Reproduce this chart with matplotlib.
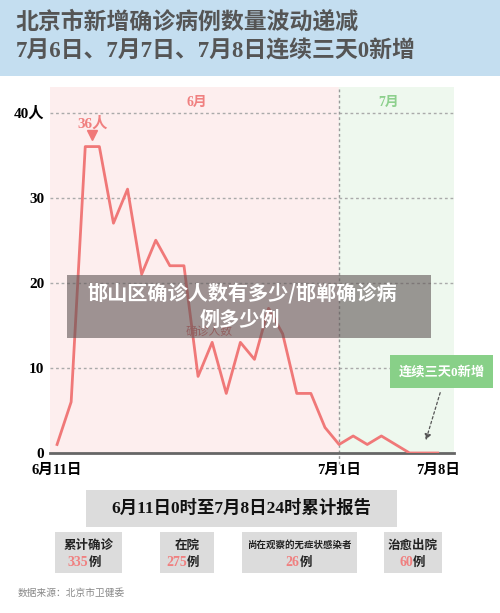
import numpy as np
import matplotlib.pyplot as plt
from matplotlib.patches import Rectangle, FancyArrowPatch

# Beijing daily new confirmed cases, 6/11 - 7/8
days = list(range(28))
cases = [1, 6, 36, 36, 27, 31, 21, 25, 22, 22, 9, 13, 7, 13, 11, 17, 14, 7, 7, 3,
         1, 2, 1, 2, 1, 0, 0, 0]
y_ticks = [0, 10, 20, 30, 40]
y_labels = ['0', '10', '20', '30', '40人']
x_ticks = [0, 20, 27]
x_labels = ['6月11日', '7月1日', '7月8日']
box_titles = ['累计确诊', '在院', '尚在观察的无症状感染者', '治愈出院']
box_values = ['335', '275', '26', '60']

CJK = ['Noto Sans CJK SC', 'DejaVu Sans']
MIX = ['Liberation Serif', 'Noto Sans CJK SC']
plt.rcParams['font.family'] = CJK

W, H = 500, 613
fig = plt.figure(figsize=(W / 100, H / 100), dpi=100)

def fx(x):
    return x / W

def fy(y):
    return 1 - y / H

def rect(x0, y0, x1, y1, color, z=0, alpha=1.0):
    r = Rectangle((fx(x0), fy(y1)), fx(x1) - fx(x0), fy(y0) - fy(y1),
                  transform=fig.transFigure, facecolor=color, edgecolor='none',
                  zorder=z, alpha=alpha)
    fig.add_artist(r)

# title band
rect(0, 0, 500, 76, '#c4def0')
fig.text(fx(16), fy(22), '北京市新增确诊病例数量波动递减', fontsize=16.5, fontweight='bold',
         color='#555555', va='center', family=CJK)
fig.text(fx(16), fy(51), '7月6日、7月7日、7月8日连续三天0新增', fontsize=16.5, fontweight='bold',
         color='#555555', va='center', family=MIX)

# main chart
ax = fig.add_axes([fx(50), fy(453), fx(454) - fx(50), fy(87) - fy(453)])
ax.set_xlim(-0.5, 28.15)
ax.set_ylim(0, 43)
ax.axvspan(-0.5, 20, color='#fdeeee', zorder=0)
ax.axvspan(20, 28.15, color='#eef8ee', zorder=0)
for v in [10, 20, 30, 40]:
    ax.axhline(v, color='#aaaaaa', lw=1, ls=(0, (2, 2)), zorder=1)
ax.axvline(20, color='#999999', lw=1, ls=(0, (2, 2)), ymin=-0.03, ymax=1, clip_on=False, zorder=1)
ax.plot(days, cases, color='#f07878', lw=2, zorder=3)

for s in ['top', 'right', 'left']:
    ax.spines[s].set_visible(False)
ax.spines['bottom'].set_color('#666666')
ax.spines['bottom'].set_linewidth(2)
ax.set_yticks(y_ticks)
ax.set_yticklabels(y_labels, fontsize=11, fontweight='bold', family=MIX)
ax.set_xticks(x_ticks)
ax.set_xticklabels(x_labels, fontsize=10.5, fontweight='bold', family=MIX)
ax.tick_params(length=0, pad=4)
ax.tick_params(axis='x', pad=8)

ax.text(9.9, 41.2, '6月', color='#f08080', fontsize=10, fontweight='bold', ha='center', va='center', family=MIX)
ax.text(23.5, 41.2, '7月', color='#8dd08d', fontsize=10, fontweight='bold', ha='center', va='center', family=MIX)
ax.text(2.5, 37.9, '36人', color='#f08080', fontsize=11, fontweight='bold', ha='center', va='bottom', family=MIX)
ax.plot([2.5], [37.4], marker='v', color='#f07878', markersize=7, zorder=4)
# label partly hidden under the banner
ax.text(10.8, 14.3, '确诊人数', color='#e07070', fontsize=8.5, ha='center', va='center', family=CJK)

# green note box + arrow
rect(390, 355, 493, 388, '#88d088', z=5)
fig.text(fx(441.5), fy(372), '连续三天0新增', fontsize=9.5, fontweight='bold', color='white',
         ha='center', va='center', zorder=6, family=MIX)
arr = FancyArrowPatch((fx(441), fy(390)), (fx(425), fy(443)), transform=fig.transFigure,
                      arrowstyle='-|>', mutation_scale=9, color='#555555', lw=0.9,
                      linestyle=(0, (2, 2)), zorder=6)
fig.add_artist(arr)

# overlay banner
rect(67, 275, 431, 338, '#5f5555', z=8, alpha=0.6)
fig.text(fx(242), fy(294), '邯山区确诊人数有多少/邯郸确诊病', fontsize=14.5, fontweight='bold',
         color='white', ha='center', va='center', zorder=9, family=CJK)
fig.text(fx(240), fy(319), '例多少例', fontsize=14.5, fontweight='bold',
         color='white', ha='center', va='center', zorder=9, family=CJK)

# cumulative report
rect(86, 490, 397, 527, '#dcdcdc')
fig.text(fx(241), fy(508), '6月11日0时至7月8日24时累计报告', fontsize=12.5, fontweight='bold',
         color='#111111', ha='center', va='center', family=MIX)

boxes = [(55, 122), (160, 214), (242, 357), (384, 442)]
for (x0, x1), t, v in zip(boxes, box_titles, box_values):
    rect(x0, 532, x1, 573, '#dcdcdc')
    xc = (x0 + x1) / 2
    fs = 6.8 if len(t) > 6 else 9
    fig.text(fx(xc), fy(545), t, fontsize=fs, fontweight='bold', color='#222222',
             ha='center', va='center', family=CJK)
    fig.text(fx(xc), fy(562), v, fontsize=10, fontweight='bold', color='#f08080',
             ha='right', va='center', family=MIX)
    fig.text(fx(xc), fy(562), '例', fontsize=9, fontweight='bold', color='#222222',
             ha='left', va='center', family=CJK)

fig.text(fx(18), fy(593), '数据来源：北京市卫健委', fontsize=7, color='#888888', va='center', family=CJK)

fig.savefig('out.png', dpi=100)
